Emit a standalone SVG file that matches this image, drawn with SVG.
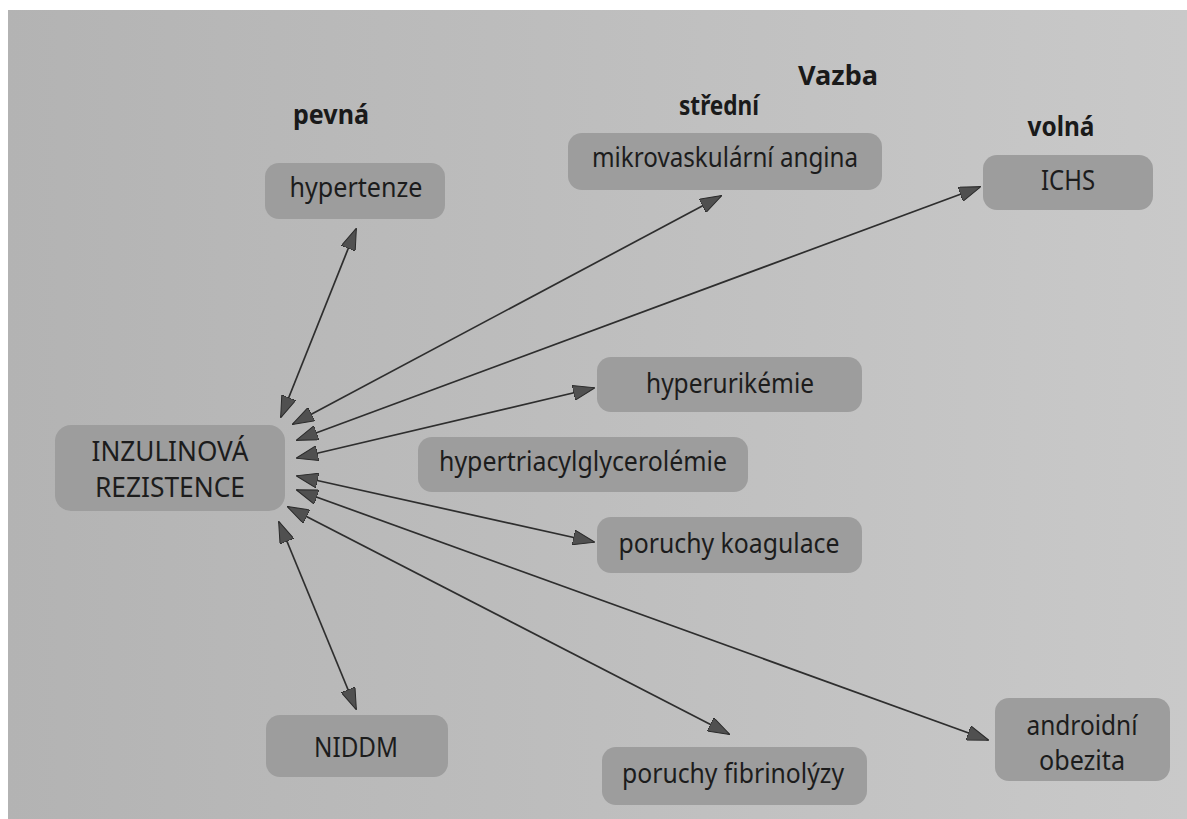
<svg xmlns="http://www.w3.org/2000/svg" width="1187" height="819" viewBox="0 0 1187 819">
  <defs>
    <linearGradient id="bg" x1="0" y1="0" x2="1" y2="0">
      <stop offset="0" stop-color="#b3b3b3"/>
      <stop offset="1" stop-color="#c9c9c9"/>
    </linearGradient>
    <marker id="ah" viewBox="0 0 22 15" refX="21" refY="7.5" markerWidth="22" markerHeight="15" markerUnits="userSpaceOnUse" orient="auto-start-reverse">
      <path d="M0,0 L22,7.5 L0,15 Z" fill="#505050" stroke="#2a2a2a" stroke-width="1"/>
    </marker>
  </defs>
  <style>
    .box { fill: #9d9d9d; }
    .t { font-family: "Noto Sans", "Open Sans", sans-serif; font-size: 27px; fill: #1c1c1c; text-anchor: middle; }
    .cap { font-size: 28px; }
    .h { font-family: "Noto Sans", "Open Sans", sans-serif; font-weight: bold; font-size: 26px; fill: #1a1a1a; text-anchor: middle; }
    .c { stroke: #2e2e2e; stroke-width: 1.7; fill: none; marker-start: url(#ah); marker-end: url(#ah); }
  </style>
  <rect x="0" y="0" width="1187" height="819" fill="#ffffff"/>
  <rect x="8" y="10" width="1179" height="809" fill="url(#bg)"/>

  <g id="headers">
    <text class="h" x="838" y="85" textLength="80" lengthAdjust="spacingAndGlyphs">Vazba</text>
    <text class="h" x="331" y="124" textLength="76" lengthAdjust="spacingAndGlyphs">pevná</text>
    <text class="h" x="719" y="115" textLength="80" lengthAdjust="spacingAndGlyphs">střední</text>
    <text class="h" x="1061" y="136" textLength="67" lengthAdjust="spacingAndGlyphs">volná</text>
  </g>

  <g id="connectors">
    <line class="c" x1="281" y1="417" x2="356" y2="229"/>
    <line class="c" x1="293" y1="424" x2="721" y2="196"/>
    <line class="c" x1="297" y1="440" x2="980" y2="187"/>
    <line class="c" x1="297" y1="458" x2="594" y2="388"/>
    <line class="c" x1="297" y1="476" x2="594" y2="542"/>
    <line class="c" x1="297" y1="490" x2="988" y2="740"/>
    <line class="c" x1="288" y1="507" x2="729" y2="734"/>
    <line class="c" x1="279" y1="522" x2="356" y2="709"/>
  </g>

  <g id="node-ir">
    <rect class="box" x="55" y="425" width="230" height="86" rx="16"/>
    <text class="t cap" x="170" y="461" textLength="157" lengthAdjust="spacingAndGlyphs">INZULINOVÁ</text>
    <text class="t cap" x="170" y="497" textLength="150" lengthAdjust="spacingAndGlyphs">REZISTENCE</text>
  </g>
  <g id="node-hypertenze">
    <rect class="box" x="265" y="163" width="180" height="56" rx="14"/>
    <text class="t" x="356" y="197" textLength="133" lengthAdjust="spacingAndGlyphs">hypertenze</text>
  </g>
  <g id="node-mikro">
    <rect class="box" x="568" y="133" width="314" height="57" rx="14"/>
    <text class="t" x="725" y="167" textLength="266" lengthAdjust="spacingAndGlyphs">mikrovaskulární angina</text>
  </g>
  <g id="node-ichs">
    <rect class="box" x="983" y="155" width="170" height="55" rx="14"/>
    <text class="t" x="1068" y="190" textLength="54" lengthAdjust="spacingAndGlyphs">ICHS</text>
  </g>
  <g id="node-hyperurikemie">
    <rect class="box" x="597" y="357" width="265" height="55" rx="14"/>
    <text class="t" x="730" y="393" textLength="168" lengthAdjust="spacingAndGlyphs">hyperurikémie</text>
  </g>
  <g id="node-hypertriacylglycerolemie">
    <rect class="box" x="418" y="437" width="330" height="55" rx="14"/>
    <text class="t" x="583" y="471" textLength="288" lengthAdjust="spacingAndGlyphs">hypertriacylglycerolémie</text>
  </g>
  <g id="node-koagulace">
    <rect class="box" x="597" y="517" width="265" height="56" rx="14"/>
    <text class="t" x="729" y="553" textLength="221" lengthAdjust="spacingAndGlyphs">poruchy koagulace</text>
  </g>
  <g id="node-niddm">
    <rect class="box" x="266" y="715" width="182" height="62" rx="14"/>
    <text class="t" x="356" y="757" textLength="84" lengthAdjust="spacingAndGlyphs">NIDDM</text>
  </g>
  <g id="node-fibrinolyzy">
    <rect class="box" x="602" y="747" width="265" height="58" rx="14"/>
    <text class="t" x="733" y="783" textLength="222" lengthAdjust="spacingAndGlyphs">poruchy fibrinolýzy</text>
  </g>
  <g id="node-obezita">
    <rect class="box" x="995" y="698" width="175" height="83" rx="14"/>
    <text class="t" x="1082" y="735" textLength="111" lengthAdjust="spacingAndGlyphs">androidní</text>
    <text class="t" x="1082" y="770" textLength="86" lengthAdjust="spacingAndGlyphs">obezita</text>
  </g>
</svg>
